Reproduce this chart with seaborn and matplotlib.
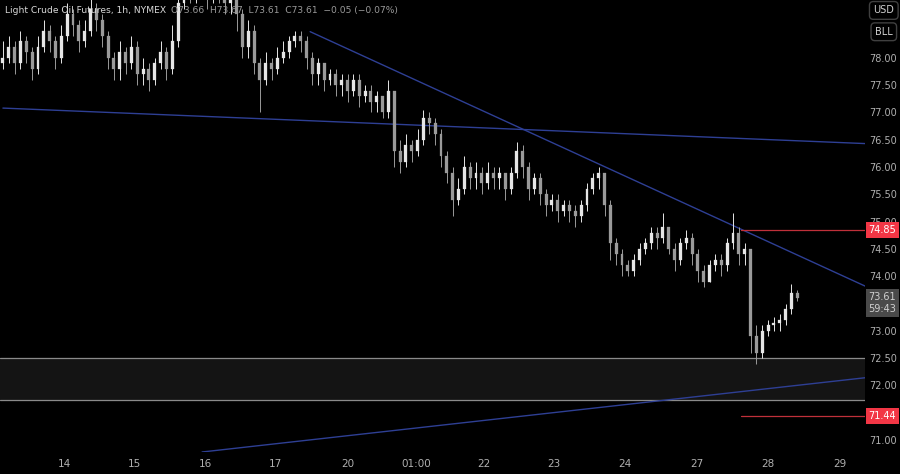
import matplotlib
matplotlib.use("Agg")
import matplotlib.pyplot as plt
import seaborn as sns
import pandas as pd

# hourly-ish candles, one every ~5.86 px
closes = [78.0, 78.2, 77.9, 78.3, 78.1, 77.8, 78.2, 78.5, 78.3, 78.0,
          78.4, 78.8, 78.6, 78.3, 78.5, 78.9, 78.7, 78.4, 78.0, 77.8,
          78.1, 77.9, 78.2, 77.7, 77.8, 77.6, 77.9, 78.1, 77.8, 78.3,
          79.0, 79.4, 79.2, 79.5, 79.3, 79.1, 79.4, 79.2, 79.0, 79.1,
          78.8, 78.2, 78.5, 77.9, 77.6, 77.9, 77.8, 78.0, 78.1, 78.3,
          78.4, 78.3, 78.0, 77.7, 77.9, 77.6, 77.7, 77.5, 77.6, 77.4,
          77.6, 77.3, 77.4, 77.2, 77.3, 77.0, 77.4, 76.3, 76.1, 76.4,
          76.3, 76.5, 76.9, 76.8, 76.6, 76.2, 75.9, 75.4, 75.6, 76.0,
          75.8, 75.9, 75.7, 75.9, 75.8, 75.9, 75.6, 75.9, 76.3, 76.0,
          75.6, 75.8, 75.5, 75.3, 75.4, 75.2, 75.3, 75.2, 75.1, 75.3,
          75.6, 75.8, 75.9, 75.3, 74.6, 74.4, 74.2, 74.1, 74.3, 74.5,
          74.6, 74.8, 74.7, 74.9, 74.5, 74.3, 74.6, 74.7, 74.4, 74.1,
          73.9, 74.2, 74.3, 74.2, 74.6, 74.8, 74.4, 74.5, 72.9, 72.6,
          73.0, 73.1, 73.15, 73.2, 73.4, 73.7, 73.61]
highs = [78.3, 78.4, 78.3, 78.5, 78.4, 78.2, 78.4, 78.7, 78.6, 78.4,
         78.6, 79.0, 78.9, 78.7, 78.7, 79.1, 79.0, 78.8, 78.5, 78.1,
         78.3, 78.2, 78.4, 78.3, 78.0, 77.9, 78.0, 78.3, 78.2, 78.6,
         79.3, 79.6, 79.6, 79.7, 79.6, 79.4, 79.6, 79.5, 79.3, 79.3,
         79.2, 78.9, 78.7, 78.6, 78.0, 78.1, 78.0, 78.2, 78.3, 78.4,
         78.5, 78.5, 78.4, 78.1, 78.0, 77.9, 77.8, 77.8, 77.7, 77.7,
         77.7, 77.7, 77.5, 77.5, 77.4, 77.3, 77.6, 77.4, 76.5, 76.6,
         76.5, 76.7, 77.05, 77.0, 76.9, 76.7, 76.3, 76.0, 75.8, 76.2,
         76.1, 76.1, 76.0, 76.1, 76.0, 76.0, 75.9, 76.0, 76.45, 76.4,
         76.1, 75.9, 75.9, 75.6, 75.5, 75.5, 75.4, 75.4, 75.3, 75.4,
         75.7, 75.9, 76.0, 75.9, 75.4, 74.7, 74.5, 74.3, 74.4, 74.6,
         74.7, 74.9, 74.9, 75.15, 74.9, 74.6, 74.7, 74.85, 74.8, 74.5,
         74.2, 74.3, 74.4, 74.4, 74.7, 75.15, 74.9, 74.6, 74.5, 73.1,
         73.1, 73.2, 73.25, 73.3, 73.5, 73.85, 73.75]
lows = [77.8, 77.9, 77.7, 77.8, 77.9, 77.6, 77.7, 78.1, 78.1, 77.8,
        77.9, 78.3, 78.4, 78.1, 78.2, 78.4, 78.5, 78.2, 77.8, 77.6,
        77.6, 77.7, 77.8, 77.5, 77.5, 77.4, 77.5, 77.8, 77.6, 77.7,
        78.2, 78.9, 79.0, 79.0, 79.1, 78.9, 79.0, 79.0, 78.8, 78.8,
        78.5, 78.0, 78.0, 77.7, 77.0, 77.5, 77.6, 77.7, 77.9, 78.0,
        78.2, 78.1, 77.8, 77.5, 77.5, 77.4, 77.5, 77.3, 77.3, 77.2,
        77.3, 77.1, 77.2, 77.0, 77.0, 76.9, 76.9, 76.0, 75.9, 76.0,
        76.1, 76.2, 76.4, 76.6, 76.4, 76.0, 75.7, 75.1, 75.3, 75.5,
        75.6, 75.6, 75.5, 75.6, 75.6, 75.6, 75.4, 75.5, 75.8, 75.8,
        75.4, 75.5, 75.3, 75.1, 75.2, 75.0, 75.1, 75.0, 74.9, 75.0,
        75.2, 75.5, 75.6, 75.1, 74.3, 74.2, 74.0, 74.0, 74.0, 74.2,
        74.4, 74.5, 74.5, 74.6, 74.4, 74.1, 74.2, 74.5, 74.2, 73.9,
        73.8, 73.9, 74.1, 74.0, 74.1, 74.5, 74.2, 74.2, 72.6, 72.4,
        72.5, 72.9, 73.0, 73.0, 73.1, 73.3, 73.55]
opens = [77.9] + closes[:-1]

day_labels = ["14", "15", "16", "17", "20", "01:00", "22", "23", "24", "27", "28", "29"]
day_pos = [10.6, 22.6, 34.6, 46.6, 59.0, 70.8, 82.4, 94.4, 106.5, 118.9, 130.9, 143.3]
y_ticks = [71.0, 71.5, 72.0, 72.5, 73.0, 73.5, 74.0, 74.5, 75.0, 75.5, 76.0, 76.5, 77.0, 77.5, 78.0]

# trendlines (start/end in candle units and price)
trend_x = [[0, 147.6], [52.6, 147.6], [34.1, 147.6]]
trend_y = [[77.08, 76.43], [78.48, 73.82], [70.78, 72.14]]

zone_top, zone_bot = 72.50, 71.74
level_hi, level_lo = 74.85, 71.44
last_price = 73.61

sns.set_theme(style="dark")
plt.rcParams['font.family'] = ['DejaVu Sans']
fig = plt.figure(figsize=(9, 4.74), dpi=100, facecolor="black")
ax = fig.add_axes([0, 22 / 474, 865 / 900, 452 / 474])
ax.set_facecolor("black")
xmax = 147.6
ax.set_xlim(-0.5, xmax)
ax.set_ylim(70.78, 79.06)

# support zone
ax.axhspan(zone_bot, zone_top, color="#141414", zorder=1)
ax.axhline(zone_top, color="#8a8a8a", lw=0.9, zorder=2)
ax.axhline(zone_bot, color="#8a8a8a", lw=0.9, zorder=2)

# trendlines
for tx, ty in zip(trend_x, trend_y):
    sns.lineplot(x=tx, y=ty, ax=ax, color="#2e3f94", lw=1.0, zorder=3)

# red levels
ax.plot([126.3, xmax], [level_hi, level_hi], color="#c0303a", lw=0.9, zorder=3)
ax.plot([126.3, xmax], [level_lo, level_lo], color="#c0303a", lw=0.9, zorder=3)

# candles
df = pd.DataFrame({"o": opens, "h": highs, "l": lows, "c": closes})
df["x"] = range(len(df))
up = df["c"] >= df["o"]
for mask, col in [(up, "#e6e6e6"), (~up, "#9a9a9a")]:
    d = df[mask]
    ax.vlines(d["x"], d["l"], d["h"], color=col, lw=0.7, zorder=4)
    body = (d["c"] - d["o"]).abs().clip(lower=0.03)
    ax.bar(d["x"], body, bottom=d[["o", "c"]].min(axis=1), width=0.5,
           color=col, edgecolor=col, lw=0.2, zorder=5)

ax.set_xticks(day_pos)
ax.set_xticklabels(day_labels, color="#b0b0b0", fontsize=7.5)
ax.yaxis.tick_right()
ax.set_yticks(y_ticks)
ax.set_yticklabels([f"{v:.2f}" for v in y_ticks], color="#b0b0b0", fontsize=7)
ax.tick_params(axis="y", length=0, pad=3)
ax.tick_params(axis="x", length=0, pad=5)
ax.grid(False)
for s in ax.spines.values():
    s.set_visible(False)
ax.set_xlabel("")
ax.set_ylabel("")

# right axis labels
box = dict(boxstyle="square,pad=0.3", lw=0)
tr = ax.get_yaxis_transform()
ax.text(1.004, level_hi, f"{level_hi:.2f}", transform=tr, va="center", zorder=10,
        color="white", fontsize=7, bbox=dict(box, fc="#f23645"))
ax.text(1.004, level_lo, f"{level_lo:.2f}", transform=tr, va="center", zorder=10,
        color="white", fontsize=7, bbox=dict(box, fc="#f23645"))
ax.text(1.004, last_price - 0.1, f"{last_price:.2f}\n59:43", transform=tr, zorder=10,
        va="center", color="#d0d0d0", fontsize=7, linespacing=1.3, bbox=dict(box, fc="#4a4a4a"))
fig.text(0.982, 0.978, "USD", ha="center", va="center", color="#d0d0d0", fontsize=7,
         bbox=dict(boxstyle="round,pad=0.4", fc="black", ec="#404040"))
fig.text(0.982, 0.933, "BLL", ha="center", va="center", color="#d0d0d0", fontsize=7,
         bbox=dict(boxstyle="round,pad=0.4", fc="black", ec="#404040"))

fig.text(0.006, 0.978, "Light Crude Oil Futures, 1h, NYMEX", color="#d8d8d8", fontsize=6.6, va="center")
fig.text(0.19, 0.978, "O73.66  H73.67  L73.61  C73.61  \u22120.05 (\u22120.07%)",
         color="#9a9a9a", fontsize=6.6, va="center")

fig.savefig("out.png", dpi=100, facecolor="black")
